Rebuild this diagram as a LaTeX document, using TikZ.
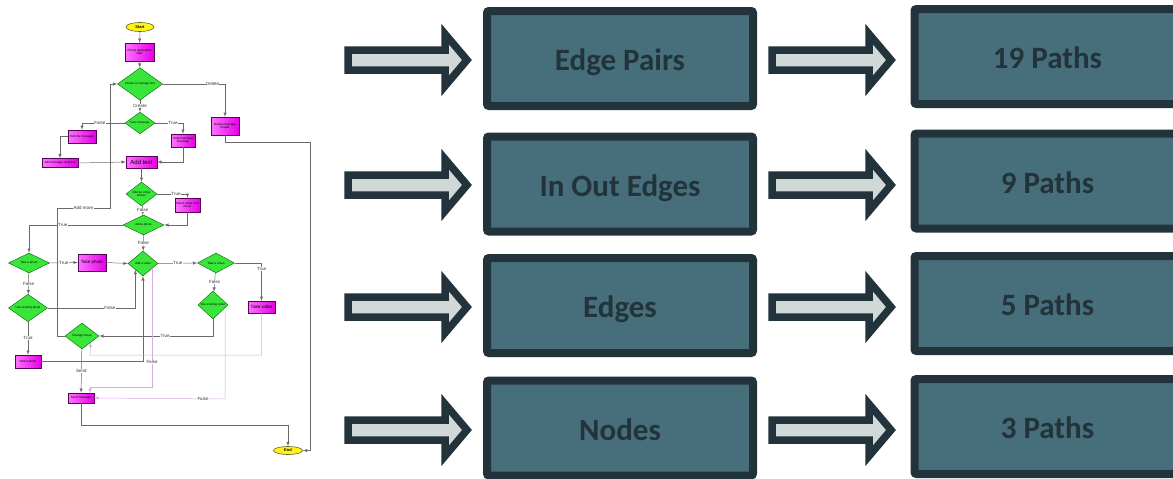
\documentclass[tikz,border=0pt]{standalone}
\usepackage{fontspec}
\setmainfont{Carlito}
\newfontfamily\fcfont{Liberation Sans}
\usetikzlibrary{shapes.geometric}
\definecolor{dk}{HTML}{22333B}
\definecolor{bx}{HTML}{476F7B}
\definecolor{ar}{HTML}{D0D8D8}
\definecolor{fl}{HTML}{6A6A6A}
\definecolor{vl}{HTML}{D8A8E8}
\newcommand\bigarrow[2]{%
  \draw[blockarrow] (#1,#2-10) -- (#1+97,#2-10) -- (#1+97,#2-26) -- (#1+119,#2)
     -- (#1+97,#2+26) -- (#1+97,#2+10) -- (#1,#2+10) -- cycle;}
\begin{document}
\begin{tikzpicture}[x=1pt,y=-1pt,
  blockarrow/.style={draw=dk,fill=ar,line width=7.5pt,line join=miter,miter limit=10},
  bigbox/.style={draw=dk,fill=bx,line width=8pt,rounded corners=2pt,minimum width=266pt,
     minimum height=95pt,inner sep=0pt,text=dk,text height=24pt,text depth=0pt,
     font=\fontsize{31}{34}\selectfont\bfseries},
  proc/.style={rectangle,draw=violet!70!black,line width=0.4pt,left color=magenta!55!white,
     right color=magenta!90!black,inner sep=0.3pt,align=center,
     font=\fcfont\fontsize{3}{3.4}\selectfont},
  dec/.style={diamond,draw=green!40!black,line width=0.4pt,fill=green!75!white!90!black,
     inner sep=0pt,align=center,font=\fcfont\fontsize{3}{3.4}\selectfont},
  term/.style={ellipse,draw=olive!70!black,line width=0.6pt,fill=yellow!90!white,inner sep=0pt,
     font=\fcfont\bfseries\fontsize{4}{4.5}\selectfont},
  fw/.style={draw=fl,line width=0.5pt},
  fa/.style={fw,-latex},
  vw/.style={draw=vl,line width=0.5pt},
  va/.style={vw,-latex},
  lab/.style={fill=white,inner sep=0.4pt,font=\fcfont\fontsize{4.5}{5}\selectfont,text=black!80}]
\useasboundingbox (0,0) rectangle (1173,479);

% ---------- right part ----------
\foreach \y in {60,185,307,430} {\bigarrow{348}{\y}}
\foreach \y in {60,185,307,430} {\bigarrow{772}{\y}}
\node[bigbox] (b1) at (620,58.5) {Edge Pairs};
\node[bigbox] (b2) at (620,184) {In Out Edges};
\node[bigbox] (b3) at (620,305.5) {Edges};
\node[bigbox] (b4) at (620,428) {Nodes};
\node[bigbox] (p1) at (1047.5,56.5) {19 Paths};
\node[bigbox] (p2) at (1047.5,181) {9 Paths};
\node[bigbox] (p3) at (1047.5,303.5) {5 Paths};
\node[bigbox] (p4) at (1047.5,426.5) {3 Paths};

% ---------- flowchart ----------
\node[term,minimum width=28pt,minimum height=9pt] (start) at (140,27) {Start};
\node[proc,minimum width=29pt,minimum height=18pt] (app) at (139.5,52) {Phone application\\start};
\node[dec,minimum width=45pt,minimum height=18pt] (d1) at (140,84) {Create or manage text};
\node[proc,minimum width=28pt,minimum height=18pt] (del) at (225,126) {Delete message\\thread};
\node[dec,minimum width=30pt,minimum height=20pt] (d2) at (140,123) {New message};
\node[proc,minimum width=28pt,minimum height=13pt] (edit) at (82,136.5) {Edit the message};
\node[proc,minimum width=36pt,minimum height=9pt] (addmsg) at (60,163) {Add message recipient};
\node[proc,minimum width=31pt,minimum height=12pt,font=\fcfont\fontsize{6}{7}\selectfont] (addtext) at (141.5,162) {Add text};
\node[proc,minimum width=24pt,minimum height=13pt] (sel) at (183,140.5) {Select existing\\message};
\node[dec,minimum width=31pt,minimum height=24pt] (d3) at (141.5,194) {Add an emoji\\sticker};
\node[proc,minimum width=25pt,minimum height=14pt] (emoji) at (187.5,205) {Select emoji from\\menu};
\node[dec,minimum width=41pt,minimum height=20pt] (d4) at (143.5,225) {Add a photo};
\node[dec,minimum width=41pt,minimum height=20pt] (photoq) at (29,263) {Take a photo};
\node[proc,minimum width=28pt,minimum height=17pt,font=\fcfont\fontsize{4.5}{5}\selectfont] (tphoto) at (92,262.5) {Take photo};
\node[dec,minimum width=30pt,minimum height=25pt] (videoq) at (143,263.5) {Add a video};
\node[dec,minimum width=37pt,minimum height=20pt] (tvq) at (216,263) {Take a video};
\node[dec,minimum width=39pt,minimum height=24pt] (useph) at (28,308) {Use existing photo};
\node[dec,minimum width=30pt,minimum height=28pt] (usevid) at (213,305) {Use existing video};
\node[proc,minimum width=27pt,minimum height=12pt,font=\fcfont\fontsize{4.5}{5}\selectfont] (tvideo) at (261.5,307) {Take video};
\node[dec,minimum width=34pt,minimum height=26pt] (change) at (82,336) {Change Setup};
\node[proc,minimum width=26pt,minimum height=13pt] (selph) at (28,361.5) {Select photo};
\node[proc,minimum width=26pt,minimum height=10pt] (send) at (81,398) {Send message};
\node[term,minimum width=29pt,minimum height=8pt] (end) at (288,450.5) {End};

% gray connectors
\draw[fa] (start) -- (app);
\draw[fa] (app) -- (d1);
\draw[fa] (d1.east) -| (del.north) node[lab,pos=0.4] {Delete};
\draw[fa] (del.south) -- (225,142) -- (310,142) -- (310,450.5) -- (end.east);
\draw[fa] (d1) -- (d2) node[lab,midway] {Create};
\draw[fa] (d2.west) -| (edit.north) node[lab,pos=0.29] {False};
\draw[fa] (edit.west) -| (addmsg.north);
\draw[fa] (addmsg.east) -- (addtext.west);
\draw[fa] (d2.east) -| (sel.north) node[lab,pos=0.32] {True};
\draw[fa] (sel.south) |- (addtext.east);
\draw[fa] (addtext) -- (d3);
\draw[fa] (d3.east) -| (emoji.north) node[lab,pos=0.31] {True};
\draw[fa] (emoji.south) |- (d4.east);
\draw[fa] (d3) -- (d4) node[lab,midway] {False};
\draw[fa] (d4.west) -| (photoq.north) node[lab,pos=0.32] {True};
\draw[fa] (d4) -- (videoq) node[lab,midway] {False};
\draw[fa] (photoq.east) -- (tphoto.west) node[lab,midway] {True};
\draw[fa] (tphoto.east) -- (videoq.west);
\draw[fa] (photoq) -- (useph) node[lab,midway] {False};
\draw[fa] (useph.east) -| (videoq.south west) node[lab,pos=0.355] {False};
\draw[fa] (useph) -- (selph) node[lab,midway] {True};
\draw[fa] (selph.east) -| (videoq.south);
\draw[fa] (videoq.east) -- (tvq.west) node[lab,midway] {True};
\draw[fa] (tvq.east) -| (tvideo.north) node[lab,pos=0.58] {True};
\draw[fa] (tvq) -- (usevid) node[lab,midway] {False};
\draw[fa] (usevid.south) |- (change.east) node[lab,pos=0.71] {True};
\draw[fa] (change.west) -- (57,336) -- (57,208) -- (110,208) node[lab,pos=0.5] {Add more} -- (110,84) -- (d1.west);
\draw[fa] (change) -- (send) node[lab,midway] {Send};
\draw[fa] (send.south) -- (81,425) -| (end.north);

% violet connectors
\coordinate (v1) at (225,310);
\draw[va] (v1) -- (225,399) node[lab,pos=1,anchor=center,xshift=-22pt] {False} -- (send.east);
\coordinate (v2) at (152,268);
\draw[va] (v2) -- (152,387) node[lab,pos=0.79] {False} -- (90,387) -- (90,393);
\draw[va] (tvideo.south) -- (261.5,355) -- (90,355) -- (change.south east);
\end{tikzpicture}
\end{document}
